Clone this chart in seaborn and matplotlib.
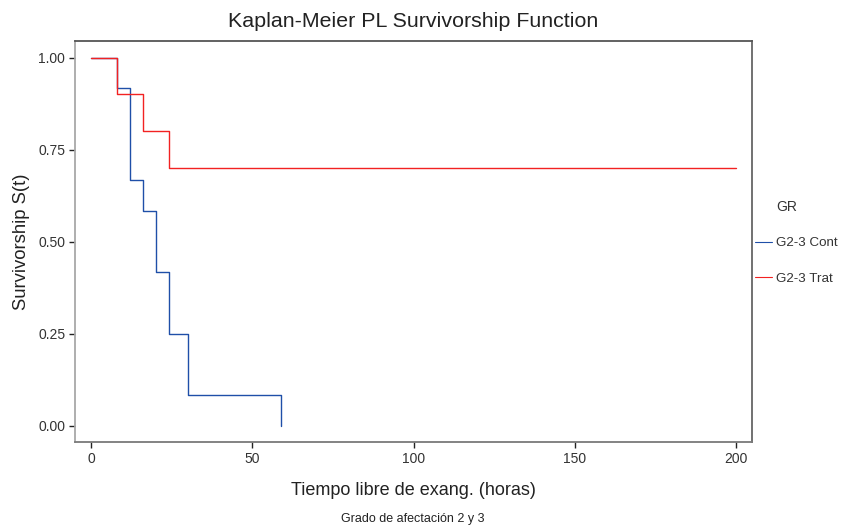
import matplotlib
matplotlib.use("Agg")
import matplotlib.pyplot as plt
import seaborn as sns
import pandas as pd

# Data (Kaplan-Meier step estimates)
cont_time = [0, 8, 12, 16, 20, 24, 30, 59]
cont_surv = [1.0, 0.9167, 0.6667, 0.5833, 0.4167, 0.25, 0.0833, 0.0]
trat_time = [0, 8, 16, 24, 200]
trat_surv = [1.0, 0.9, 0.8, 0.7, 0.7]
groups = ["G2-3 Cont", "G2-3 Trat"]
colors = ["#1f4fa8", "#f22222"]
xticks = [0, 50, 100, 150, 200]
yticks = [0.00, 0.25, 0.50, 0.75, 1.00]

df = pd.concat([
    pd.DataFrame({"t": cont_time, "s": cont_surv, "GR": groups[0]}),
    pd.DataFrame({"t": trat_time, "s": trat_surv, "GR": groups[1]}),
], ignore_index=True)

sns.set_style("white")
plt.rcParams["font.family"] = ["Liberation Sans", "DejaVu Sans"]

fig = plt.figure(figsize=(8.42, 5.27), dpi=100)
ax = fig.add_axes([75/842, 1-442/527, (752-75)/842, (442-41)/527])

sns.lineplot(data=df, x="t", y="s", hue="GR", hue_order=groups,
             palette=dict(zip(groups, colors)), drawstyle="steps-post",
             linewidth=1.0, ax=ax, estimator=None, sort=False, legend=True)

ax.set_xlim(-5.05, 205)
ax.set_ylim(-0.0435, 1.045)
ax.set_xticks(xticks)
ax.set_xticklabels([str(v) for v in xticks])
ax.set_yticks(yticks)
ax.set_yticklabels([f"{v:.2f}" for v in yticks])
ax.tick_params(axis="both", which="both", direction="out", length=4, width=1,
               color="#222222", labelsize=10, labelcolor="#333333", pad=3,
               bottom=True, left=True)

for side, col in {"left": "#a8a8a8", "bottom": "#7a7a7a",
                  "top": "#555555", "right": "#666666"}.items():
    ax.spines[side].set_color(col)
    ax.spines[side].set_linewidth(1.3)

ax.set_xlabel("Tiempo libre de exang. (horas)", fontsize=13, color="#222222", labelpad=12)
ax.set_ylabel("Survivorship S(t)", fontsize=13.3, color="#222222", labelpad=6)
ax.set_title("Kaplan-Meier PL Survivorship Function", fontsize=15.4, color="#222222", pad=10)

fig.text(413/842, 1-519/527, "Grado de afectación 2 y 3", ha="center", va="center",
         fontsize=9, color="#222222")

ax.legend_.remove()
handles, labels = ax.get_legend_handles_labels()
leg = fig.legend(handles, labels, loc="upper left",
                 bbox_to_anchor=(743/842, 1-225/527), frameon=False,
                 fontsize=9.6, handlelength=1.25,
                 handletextpad=0.35, labelspacing=1.75)
for t in leg.get_texts():
    t.set_color("#333333")
for h in leg.legend_handles:
    h.set_linewidth(0.8)
fig.text(776/842, 1-207/527, "GR", ha="left", va="center", fontsize=10, color="#333333")

fig.savefig("out.png", dpi=100)
